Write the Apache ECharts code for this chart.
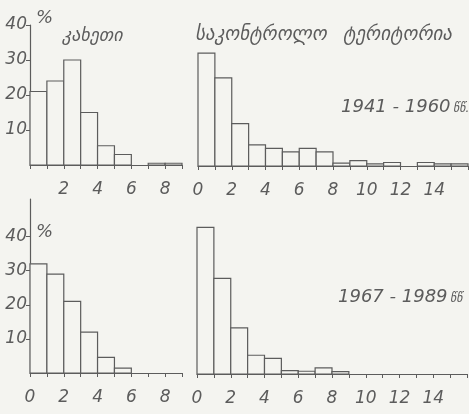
<!DOCTYPE html>
<html>
<head>
<meta charset="utf-8">
<script src="https://cdn.jsdelivr.net/npm/echarts@6/dist/echarts.min.js"></script>
<style>
  html, body { margin: 0; padding: 0; background: #f4f4f0; }
  #chart { width: 469px; height: 414px; }
</style>
</head>
<body>
<div id="chart"></div>
<script>
// процент случаев по интервалам (ширина интервала = 1)
var kakhetiOld = [21, 24, 30, 15, 5.5, 3, 0, 0.5, 0.5];
var controlOld = [32, 25, 12, 6, 5, 4, 5, 4, 0.8, 1.5, 0.6, 1, 0, 1, 0.6, 0.6];
var kakhetiNew = [32, 29, 21, 12, 4.6, 1.4, 0, 0, 0];
var controlNew = [43, 28, 13.5, 5.5, 4.6, 1, 0.8, 1.8, 0.7, 0, 0, 0, 0, 0, 0, 0];

var yTicks = [10, 20, 30, 40];
var xLabelsLeftTop = [2, 4, 6, 8];
var xLabelsLeft = [0, 2, 4, 6, 8];
var xLabelsRight = [0, 2, 4, 6, 8, 10, 12, 14];

var titleLeft = 'კახეთი';
var titleRight1 = 'საკონტროლო';
var titleRight2 = 'ტერიტორია';
var yearsOld = '1941 - 1960';
var yearsNew = '1967 - 1989';
var yearsOldUnit = 'წწ.';
var yearsNewUnit = 'წწ';

var ink = '#5c5c5c';
var paper = '#f4f4f0';
var hand = 'DejaVu Sans';

function xAxis(idx, max, labels) {
    return {
        type: 'value', gridIndex: idx, min: 0, max: max, interval: 1,
        splitLine: { show: false },
        axisLine: { lineStyle: { color: ink, width: 1.2 } },
        axisTick: { length: 4, lineStyle: { color: ink, width: 1 } },
        axisLabel: {
            customValues: labels, margin: 16,
            color: ink, fontSize: 17, fontStyle: 'italic', fontFamily: hand
        }
    };
}

function yAxis(idx, max, show) {
    return {
        type: 'value', gridIndex: idx, min: 0, max: max,
        show: show,
        splitLine: { show: false },
        axisLine: { show: true, lineStyle: { color: ink, width: 1.2 } },
        axisTick: { customValues: yTicks, length: 4, lineStyle: { color: ink, width: 1 } },
        axisLabel: {
            customValues: yTicks, margin: 3,
            color: ink, fontSize: 17, fontStyle: 'italic', fontFamily: hand
        }
    };
}

function bins(values, idx) {
    return {
        type: 'custom', xAxisIndex: idx, yAxisIndex: idx,
        data: values.map(function (v, i) { return [i, v]; }),
        renderItem: function (params, api) {
            var i = api.value(0), v = api.value(1);
            if (!v) return null;
            var p0 = api.coord([i, v]);
            var p1 = api.coord([i + 1, 0]);
            return {
                type: 'rect',
                shape: { x: p0[0], y: p0[1], width: p1[0] - p0[0], height: p1[1] - p0[1] },
                style: { fill: paper, stroke: ink, lineWidth: 1.2 }
            };
        }
    };
}

function label(text, x, y, size) {
    return {
        type: 'text', x: x, y: y,
        style: {
            text: text, fill: ink, fontSize: size, fontStyle: 'italic',
            fontFamily: hand, textVerticalAlign: 'middle'
        }
    };
}

var chart = echarts.init(document.getElementById('chart'));
chart.setOption({
    backgroundColor: paper,
    animation: false,
    grid: [
        { left: 30, top: 25, width: 152, height: 140, outerBoundsMode: 'none' },
        { left: 198, top: 25, width: 270, height: 141, outerBoundsMode: 'none' },
        { left: 30, top: 199, width: 152, height: 174, outerBoundsMode: 'none' },
        { left: 197, top: 200, width: 270, height: 174, outerBoundsMode: 'none' }
    ],
    xAxis: [
        xAxis(0, 9, xLabelsLeftTop),
        xAxis(1, 16, xLabelsRight),
        xAxis(2, 9, xLabelsLeft),
        xAxis(3, 16, xLabelsRight)
    ],
    yAxis: [
        yAxis(0, 40, true),
        yAxis(1, 40, false),
        yAxis(2, 51, true),
        yAxis(3, 51, false)
    ],
    series: [
        bins(kakhetiOld, 0),
        bins(controlOld, 1),
        bins(kakhetiNew, 2),
        bins(controlNew, 3)
    ],
    graphic: [
        label('%', 36, 18, 18),
        label('%', 36, 232, 18),
        label(titleLeft, 62, 36, 18),
        label(titleRight1, 195, 35, 19),
        label(titleRight2, 343, 35, 19),
        label(yearsOld, 341, 107, 18),
        label(yearsOldUnit, 453, 109, 12),
        label(yearsNew, 338, 297, 18),
        label(yearsNewUnit, 450, 299, 12)
    ]
});
</script>
</body>
</html>
